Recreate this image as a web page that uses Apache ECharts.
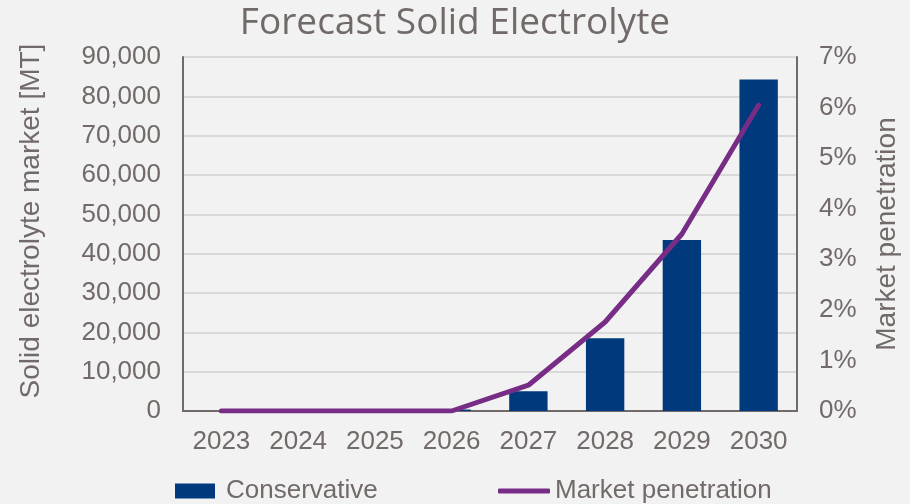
<!DOCTYPE html>
<html>
<head>
<meta charset="utf-8">
<script src="https://cdn.jsdelivr.net/npm/echarts@6/dist/echarts.min.js"></script>
<style>
html,body{margin:0;padding:0;background:#f2f2f2;}
#chart{width:910px;height:504px;}
</style>
</head>
<body>
<div id="chart"></div>
<script>
const years = ['2023','2024','2025','2026','2027','2028','2029','2030'];
const conservative = [0, 0, 0, 400, 5000, 18500, 43500, 84300];
const penetration = [0, 0, 0, 0, 0.0051, 0.0176, 0.035, 0.0605];

const textColor = '#716a68';
const chart = echarts.init(document.getElementById('chart'));
chart.setOption({
  backgroundColor: '#f2f2f2',
  animation: false,
  title: {
    text: 'Forecast Solid Electrolyte',
    left: 'center', top: 0,
    textStyle: {fontFamily: 'Open Sans', fontSize: 37, fontWeight: 'normal', color: textColor}
  },
  grid: {left: 183, right: 113, top: 57, bottom: 93},
  legend: [
    {data: [{name: 'Conservative', icon: 'rect'}], left: 170, top: 473, itemWidth: 40, itemHeight: 15, itemGap: 0,
     textStyle: {fontFamily: 'Liberation Sans', fontSize: 26, color: textColor, padding: [0,0,0,6]}},
    {data: [{name: 'Market penetration', icon: 'roundRect'}], left: 493, top: 473, itemWidth: 52, itemHeight: 5,
     textStyle: {fontFamily: 'Liberation Sans', fontSize: 26, color: textColor, padding: [0,0,0,0]}}
  ],
  xAxis: {
    type: 'category', data: years,
    axisLine: {lineStyle: {color: '#716a68', width: 2}},
    axisTick: {show: false},
    axisLabel: {fontFamily: 'Liberation Sans', fontSize: 26, color: textColor, margin: 18}
  },
  yAxis: [
    {
      type: 'value', min: 0, max: 90000, interval: 10000,
      name: 'Solid electrolyte market [MT]', nameLocation: 'middle', nameGap: 138,
      nameTextStyle: {fontFamily: 'Liberation Sans', fontSize: 28, color: textColor, padding: [0,0,0,26]},
      axisLine: {show: true, lineStyle: {color: '#716a68', width: 2}},
      axisTick: {show: false},
      splitLine: {lineStyle: {color: '#d9d9d9', width: 2}},
      axisLabel: {fontFamily: 'Liberation Sans', fontSize: 26, color: textColor, margin: 22,
        formatter: v => v.toLocaleString('en-US')}
    },
    {
      type: 'value', min: 0, max: 0.07, interval: 0.01,
      name: 'Market penetration', nameLocation: 'middle', nameGap: 76,
      nameTextStyle: {fontFamily: 'Liberation Sans', fontSize: 28, color: textColor},
      axisLine: {show: true, lineStyle: {color: '#716a68', width: 2}},
      axisTick: {show: false},
      splitLine: {show: false},
      axisLabel: {fontFamily: 'Liberation Sans', fontSize: 26, color: textColor, margin: 22,
        formatter: v => Math.round(v * 100) + '%'}
    }
  ],
  series: [
    {
      name: 'Conservative', type: 'bar', data: conservative, barWidth: '50%',
      itemStyle: {color: '#003a7d'}
    },
    {
      name: 'Market penetration', type: 'line', yAxisIndex: 1, data: penetration,
      symbol: 'none', lineStyle: {color: '#772c85', width: 5, cap: 'round'},
      itemStyle: {color: '#772c85'}
    }
  ]
});
</script>
</body>
</html>
